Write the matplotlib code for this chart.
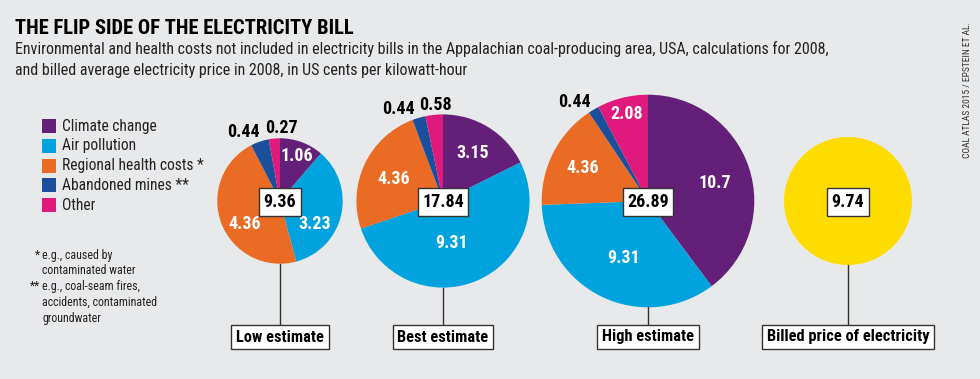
import numpy as np
import matplotlib.pyplot as plt
from matplotlib import font_manager
from matplotlib.patches import Wedge, Circle, Rectangle

# data
categories = ['Climate change', 'Air pollution', 'Regional health costs',
              'Abandoned mines', 'Other']
legend_marks = ['', '', '*', '**', '']
low_values = [1.06, 3.23, 4.36, 0.44, 0.27]
best_values = [3.15, 9.31, 4.36, 0.44, 0.58]
high_values = [10.7, 9.31, 4.36, 0.44, 2.08]
totals = [9.36, 17.84, 26.89, 9.74]
pie_names = ['Low estimate', 'Best estimate', 'High estimate',
             'Billed price of electricity']

colors = ['#642079', '#00a3dd', '#e96b24', '#1a4f9c', '#e0197d']
billed_color = '#ffdc00'
bg = '#e8e9eb'

available = {f.name for f in font_manager.fontManager.ttflist}
font = 'DejaVu Sans'
for cand in ['Liberation Sans Narrow', 'Roboto Condensed', 'Open Sans Condensed', 'Roboto']:
    if cand in available:
        font = cand
        break
plt.rcParams['font.family'] = [font, 'DejaVu Sans']

fig = plt.figure(figsize=(9.8, 3.79), dpi=100, facecolor=bg)
ax = fig.add_axes([0, 0, 1, 1])
ax.set_xlim(0, 980)
ax.set_ylim(379, 0)
ax.set_aspect('equal')
ax.axis('off')

# layout in pixels
centers_x = [280, 443, 648, 848]
center_y = 201
scale = 20.5  # px radius per sqrt(cent)
label_box_y = 337

# label offsets (fraction of radius, y up)
label_pos = [
    [(0.27, 0.71), (0.55, -0.37), (-0.56, -0.37), (-0.59, 1.10), (0.02, 1.17)],
    [(0.34, 0.56), (0.10, -0.49), (-0.57, 0.25), (-0.51, 1.06), (-0.09, 1.11)],
    [(0.63, 0.17), (-0.23, -0.54), (-0.61, 0.31), (-0.69, 0.93), (-0.20, 0.82)],
]
outside = [[False, False, False, True, True],
           [False, False, False, True, True],
           [False, False, False, True, False]]

def box_text(x, y, s, size, pad=0.25):
    ax.text(x, y, s, ha='center', va='center', fontsize=size, fontweight='bold',
            color='black', zorder=5,
            bbox=dict(boxstyle=f'square,pad={pad}', fc='white', ec='#333333', lw=1.0))

for i, vals in enumerate([low_values, best_values, high_values]):
    cx = centers_x[i]
    r = scale * np.sqrt(totals[i])
    tot = sum(vals)
    start = 90.0
    for v, c in zip(vals, colors):
        span = v / tot * 360.0
        ax.add_patch(Wedge((cx, center_y), r, -start, -(start - span), fc=c, ec='none'))
        start -= span
    for j, v in enumerate(vals):
        dx, dy = label_pos[i][j]
        col = 'black' if outside[i][j] else 'white'
        ax.text(cx + dx * r, center_y - dy * r, f'{v:g}', ha='center', va='center',
                fontsize=13, fontweight='bold', color=col)
    ax.plot([cx, cx], [center_y + r, label_box_y], color='#333333', lw=1.0, zorder=1)
    box_text(cx, center_y + 1, f'{totals[i]:.2f}', 13)
    box_text(cx, label_box_y, pie_names[i], 11.8, pad=0.3)

# billed price
cx = centers_x[3]
r = scale * np.sqrt(totals[3])
ax.add_patch(Circle((cx, center_y), r, fc=billed_color, ec='none'))
ax.plot([cx, cx], [center_y + r, label_box_y], color='#333333', lw=1.0, zorder=1)
box_text(cx, center_y + 1, f'{totals[3]:.2f}', 13)
box_text(cx, label_box_y, pie_names[3], 11.8, pad=0.3)

# title
ax.text(15, 28, 'THE FLIP SIDE OF THE ELECTRICITY BILL', fontsize=14.8, fontweight='bold',
        ha='left', va='center')
ax.text(15, 49, 'Environmental and health costs not included in electricity bills in the '
        'Appalachian coal-producing area, USA, calculations for 2008,', fontsize=11.5,
        ha='left', va='center', color='#222222')
ax.text(15, 71, 'and billed average electricity price in 2008, in US cents per kilowatt-hour',
        fontsize=11.5, ha='left', va='center', color='#222222')

# legend
for k, (name, c) in enumerate(zip(categories, colors)):
    y = 126 + k * 19.8
    ax.add_patch(Rectangle((42, y - 7), 14, 14, fc=c, ec='none'))
    label = name + (' ' + legend_marks[k] if legend_marks[k] else '')
    ax.text(62, y, label, fontsize=11.2, ha='left', va='center', color='#222222')

# footnotes
notes = [('*', 'e.g., caused by'), ('', 'contaminated water'),
         ('**', 'e.g., coal-seam fires,'), ('', 'accidents, contaminated'),
         ('', 'groundwater')]
for k, (mark, txt) in enumerate(notes):
    y = 255 + k * 15.8
    if mark:
        ax.text(40, y, mark, fontsize=8.6, ha='right', va='center', color='#222222')
    ax.text(42, y, txt, fontsize=8.6, ha='left', va='center', color='#222222')

# source
ax.text(967, 90, 'COAL ATLAS 2015 / EPSTEIN ET AL.', fontsize=6.8, rotation=90,
        ha='center', va='center', color='#333333')

fig.savefig('out.png', dpi=100, facecolor=bg)
